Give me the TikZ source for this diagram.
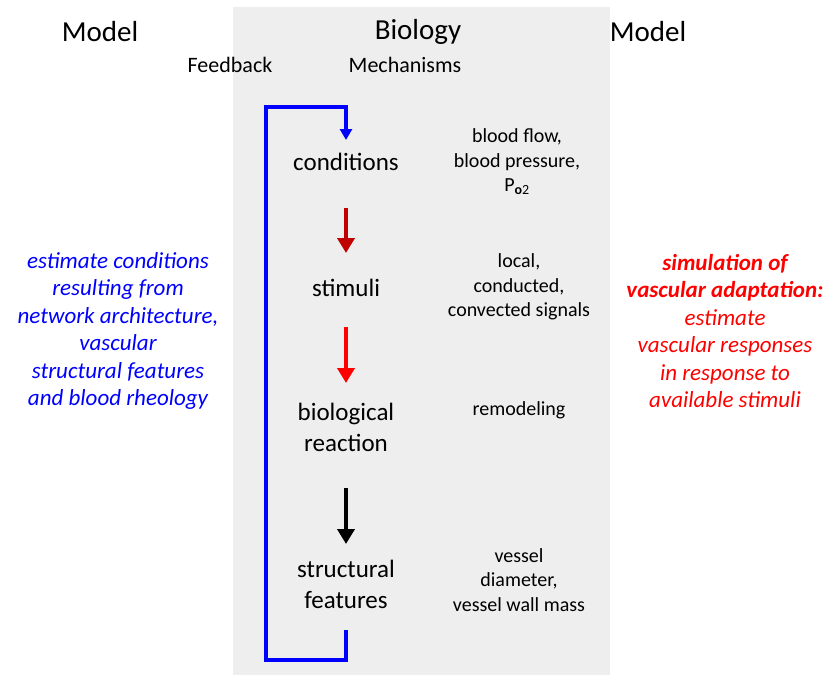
\documentclass[tikz,border=0pt]{standalone}
\usepackage{fontspec}
\setmainfont{Carlito}
\usetikzlibrary{arrows.meta}
\definecolor{bggray}{RGB}{238,238,238}
\definecolor{darkred}{RGB}{192,0,0}
\definecolor{brightred}{RGB}{255,0,0}
\definecolor{pureblue}{RGB}{0,0,255}
\tikzset{
  bigtitle/.style={font=\fontsize{29}{34}\selectfont, anchor=center},
  subtitle/.style={font=\fontsize{22}{26}\selectfont, anchor=center},
  stage/.style={font=\fontsize{25}{31}\selectfont, align=center, anchor=center},
  mech/.style={font=\fontsize{20}{24.5}\selectfont, align=center, anchor=center},
  side/.style={font=\fontsize{23}{27.5}\selectfont\itshape, align=center, anchor=center},
  flowarrow/.style={line width=4.5pt, -{Triangle[length=15pt,width=17pt]}},
}
\begin{document}
\begin{tikzpicture}[x=1pt,y=-1pt]
\useasboundingbox (0,0) rectangle (825,675);
\fill[bggray] (233,7) rectangle (610,675);

\node[bigtitle] (modelL) at (100,32) {Model};
\node[bigtitle] (biology) at (418,32) {Biology};
\node[bigtitle] (modelR) at (648,32) {Model};
\node[subtitle] (feedback) at (230,65) {Feedback};
\node[subtitle] (mechanisms) at (405,65) {Mechanisms};

\node[stage] (cond) at (346,162) {conditions};
\node[stage] (stim) at (346,288) {stimuli};
\node[stage] (bio) at (346,427) {biological\\reaction};
\node[stage] (struct) at (346,584) {structural\\features};

\node[mech] (m1) at (517,162) {blood flow,\\blood pressure,\\P\textsubscript{\textbf{o}2}};
\node[mech] (m2) at (519,287) {local,\\conducted,\\convected signals};
\node[mech] (m3) at (519,410) {remodeling};
\node[mech] (m4) at (519,580) {vessel\\diameter,\\vessel wall mass};

\node[side, text=pureblue] (left) at (118,331) {estimate conditions\\resulting from\\network architecture,\\vascular\\structural features\\and blood rheology};
\node[side, text=brightred] (right) at (725,331) {\textbf{simulation of}\\\textbf{vascular adaptation:}\\estimate\\vascular responses\\in response to\\available stimuli};

\coordinate (a1s) at (346,208);
\coordinate (a1e) at (346,253);
\coordinate (a2s) at (346,327);
\coordinate (a2e) at (346,383);
\coordinate (a3s) at (346,488);
\coordinate (a3e) at (346,544);
\draw[flowarrow, darkred] (a1s) -- (a1e);
\draw[flowarrow, brightred] (a2s) -- (a2e);
\draw[flowarrow, black] (a3s) -- (a3e);

\coordinate (fbtop) at (346,140);
\coordinate (fbbot) at (346,630);
\draw[pureblue, line width=4pt, -{Triangle[length=11pt,width=12pt]}]
  (fbbot) |- (266,660) |- (346,107) -- (fbtop);
\end{tikzpicture}
\end{document}
